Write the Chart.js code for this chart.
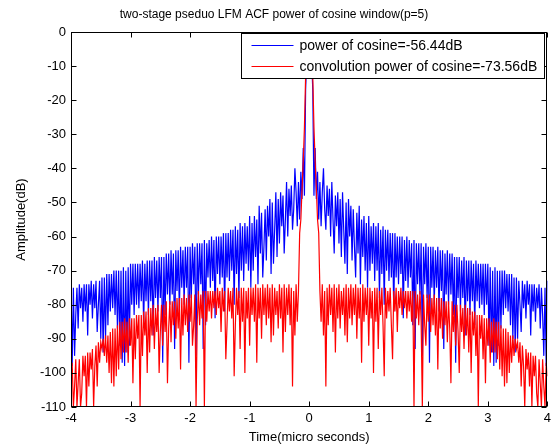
<!DOCTYPE html>
<html>
<head>
<meta charset="utf-8">
<script src="https://cdn.jsdelivr.net/npm/chart.js@4.4.0/dist/chart.umd.min.js"></script>
<style>
  html, body { margin: 0; padding: 0; background: #fff; }
</style>
</head>
<body>
<canvas id="acfChart" width="555" height="446"></canvas>
<script>
// ACF is symmetric about t = 0, so only the right half (0..4 us) is read off,
// one sample every 0.02 us.
var sampleStep = 0.02;

var seriesNames = ['power of cosine=-56.44dB', 'convolution power of cosine=-73.56dB'];
var seriesColors = ['#0000ff', '#ff0000'];

var blueHalf = [
  0, -2, -7, -17, -48, -34, -49, -41, -55, -44,
  -57, -47, -40, -52, -58, -45, -54, -46, -60, -44,
  -55, -65, -48, -57, -47, -62, -49, -66, -47, -58,
  -68, -50, -71, -49, -60, -51, -67, -52, -63, -72,
  -53, -65, -51, -74, -55, -66, -54, -70, -56, -75,
  -54, -70, -57, -68, -56, -73, -57, -70, -56, -78,
  -58, -71, -57, -80, -58, -70, -58, -73, -59, -72,
  -59, -82, -59, -72, -60, -74, -60, -71, -60, -84,
  -61, -73, -60, -75, -61, -72, -62, -86, -61, -93,
  -62, -74, -62, -77, -62, -95, -63, -74, -62, -78,
  -63, -97, -63, -75, -63, -80, -64, -75, -63, -82,
  -64, -76, -64, -93, -65, -77, -64, -80, -65, -77,
  -65, -83, -66, -97, -66, -78, -66, -82, -67, -78,
  -66, -89, -67, -79, -67, -83, -67, -79, -68, -86,
  -67, -79, -68, -81, -68, -80, -68, -83, -68, -80,
  -68, -92, -69, -94, -70, -98, -69, -97, -70, -92,
  -70, -87, -70, -83, -70, -81, -71, -82, -71, -86,
  -71, -90, -72, -94, -72, -90, -73, -80, -88, -73,
  -81, -74, -84, -73, -80, -74, -89, -74, -82, -74,
  -85, -75, -81, -74, -87, -75, -83, -95, -75, -98,
  -73
];

var redHalf = [
  0, -2, -6, -13, -28, -38, -46, -55, -59, -76,
  -85, -74, -89, -76, -104, -75, -86, -74, -83, -75,
  -88, -74, -94, -75, -84, -74, -87, -76, -83, -75,
  -89, -74, -91, -75, -84, -74, -86, -75, -83, -74,
  -90, -75, -84, -75, -97, -74, -85, -75, -83, -75,
  -92, -75, -84, -76, -100, -75, -85, -75, -93, -76,
  -83, -75, -86, -101, -75, -84, -76, -82, -75, -86,
  -96, -76, -82, -75, -88, -76, -81, -75, -83, -76,
  -81, -76, -84, -76, -82, -76, -85, -76, -110, -76,
  -84, -77, -86, -76, -85, -110, -77, -86, -92, -77,
  -85, -77, -88, -78, -86, -77, -89, -78, -99, -78,
  -87, -78, -90, -79, -86, -79, -91, -79, -87, -103,
  -79, -88, -80, -92, -80, -88, -100, -80, -88, -81,
  -93, -80, -89, -81, -94, -81, -100, -82, -89, -82,
  -95, -83, -110, -83, -90, -83, -96, -84, -103, -84,
  -92, -84, -97, -85, -94, -84, -94, -85, -96, -85,
  -99, -86, -101, -87, -104, -87, -103, -88, -100, -89,
  -97, -89, -95, -90, -93, -91, -97, -91, -104, -92,
  -98, -110, -93, -99, -94, -104, -94, -110, -95, -101,
  -95, -106, -110, -96, -103, -110, -96, -104, -110, -97,
  -101
];

var xTicks = [-4, -3, -2, -1, 0, 1, 2, 3, 4];
var yTicks = [0, -10, -20, -30, -40, -50, -60, -70, -80, -90, -100, -110];

// build the full symmetric series from the right halves
function mirror(half) {
  return half.slice(1).reverse().concat(half);
}
var times = [];
for (var i = -(blueHalf.length - 1); i < blueHalf.length; i++) {
  times.push(+(i * sampleStep).toFixed(2));
}

Chart.defaults.font.family = '"Liberation Sans", Arial, sans-serif';
Chart.defaults.color = '#000';

// MATLAB style box with inward ticks, plus an opaque legend on top of the lines
var matlabAxes = {
  id: 'matlabAxes',
  beforeDraw: function(chart) {
    var ctx = chart.ctx;
    ctx.save();
    ctx.fillStyle = '#fff';
    ctx.fillRect(0, 0, chart.width, chart.height);
    ctx.restore();
  },
  afterDatasetsDraw: function(chart) {
    var ctx = chart.ctx;
    var a = chart.chartArea;
    var x = chart.scales.x, y = chart.scales.y;
    var L = Math.round(a.left) + 0.5, R = Math.round(a.right) - 0.5;
    var T = Math.round(a.top) + 0.5, B = Math.round(a.bottom) - 0.5;
    ctx.save();
    ctx.strokeStyle = '#000';
    ctx.lineWidth = 1;
    ctx.beginPath();
    xTicks.forEach(function(v) {
      var px = Math.round(x.getPixelForValue(v)) + 0.5;
      ctx.moveTo(px, B); ctx.lineTo(px, B - 5);
      ctx.moveTo(px, T); ctx.lineTo(px, T + 5);
    });
    yTicks.forEach(function(v) {
      var py = Math.round(y.getPixelForValue(v)) + 0.5;
      ctx.moveTo(L, py); ctx.lineTo(L + 5, py);
      ctx.moveTo(R, py); ctx.lineTo(R - 5, py);
    });
    ctx.stroke();
    ctx.strokeRect(L, T, R - L, B - T);

    // legend
    ctx.font = '14px "Liberation Sans", Arial, sans-serif';
    var textW = 0;
    seriesNames.forEach(function(n) { textW = Math.max(textW, ctx.measureText(n).width); });
    var boxW = Math.round(10 + 42 + 6 + textW + 7);
    var boxR = R - 2, boxT = T + 1, boxH = 45;
    var boxL = boxR - boxW;
    ctx.fillStyle = '#fff';
    ctx.fillRect(boxL, boxT, boxW, boxH);
    ctx.strokeRect(boxL, boxT, boxW, boxH);
    ctx.textBaseline = 'middle';
    ctx.textAlign = 'left';
    seriesNames.forEach(function(n, k) {
      var ly = boxT + 12 + k * 21;
      ctx.strokeStyle = seriesColors[k];
      ctx.beginPath();
      ctx.moveTo(boxL + 10, ly);
      ctx.lineTo(boxL + 52, ly);
      ctx.stroke();
      ctx.fillStyle = '#000';
      ctx.fillText(n, boxL + 58, ly + 1);
    });
    ctx.restore();
  }
};

var acfChart = new Chart(document.getElementById('acfChart'), {
  type: 'line',
  data: {
    labels: times,
    datasets: [
      {
        label: seriesNames[0],
        data: mirror(blueHalf),
        borderColor: seriesColors[0],
        borderWidth: 1.2,
        pointRadius: 0,
        tension: 0,
        order: 1
      },
      {
        label: seriesNames[1],
        data: mirror(redHalf),
        borderColor: seriesColors[1],
        borderWidth: 1.2,
        pointRadius: 0,
        tension: 0,
        order: 0
      }
    ]
  },
  options: {
    responsive: false,
    animation: false,
    layout: { padding: { left: 0, right: 7, top: 0, bottom: 0 } },
    plugins: {
      legend: { display: false },
      tooltip: { enabled: false },
      title: {
        display: true,
        text: 'two-stage pseduo LFM ACF power of cosine window(p=5)',
        color: '#000',
        font: { size: 12, weight: 'normal' },
        padding: { top: 7, bottom: 10.6 }
      }
    },
    scales: {
      x: {
        type: 'linear',
        min: -4,
        max: 4,
        grid: { display: false, drawTicks: false },
        border: { display: false },
        afterBuildTicks: function(s) { s.ticks = xTicks.map(function(v) { return { value: v }; }); },
        afterFit: function(s) { s.height = 39; },
        ticks: { font: { size: 13 }, padding: 4, maxRotation: 0, autoSkip: false,
          callback: function(v) { return String(v); } },
        title: { display: true, text: 'Time(micro seconds)', font: { size: 13 }, padding: { top: 0, bottom: 1 } }
      },
      y: {
        type: 'linear',
        min: -110,
        max: 0,
        grid: { display: false, drawTicks: false },
        border: { display: false },
        afterBuildTicks: function(s) { s.ticks = yTicks.map(function(v) { return { value: v }; }); },
        afterFit: function(s) { s.width = 71; },
        ticks: { font: { size: 13 }, padding: 5, autoSkip: false,
          callback: function(v) { return String(v); } },
        title: { display: true, text: 'Amplitude(dB)', font: { size: 13 }, padding: { top: 14, bottom: 0 } }
      }
    }
  },
  plugins: [matlabAxes]
});
</script>
</body>
</html>
